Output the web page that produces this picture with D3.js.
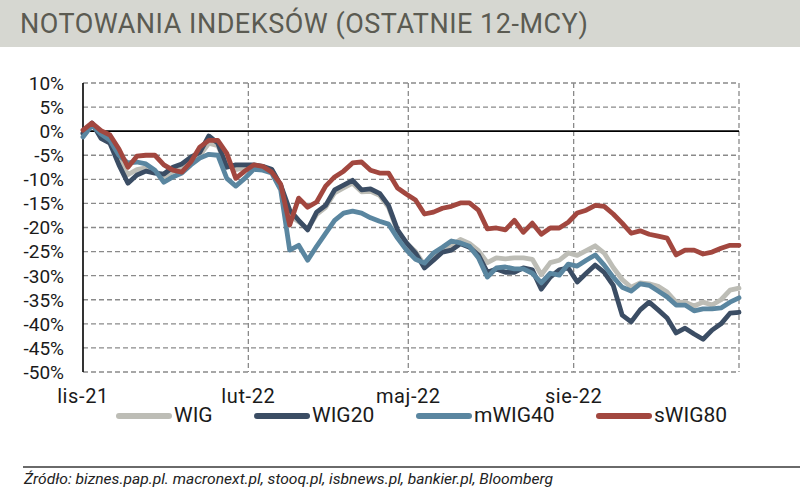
<!DOCTYPE html>
<html>
<head>
<meta charset="utf-8">
<script src="https://cdn.jsdelivr.net/npm/d3@7"></script>
<style>
    body { margin: 0; background: #ffffff; }
    svg text { font-family: Roboto, "Liberation Sans", sans-serif; }
</style>
</head>
<body>
<svg id="chart"></svg>
<script>

// Data - one point every 5 days from 1 Nov 2021, % change
var startDate = new Date(2021, 10, 1);
var stepDays = 5;

var yTicks = [10, 5, 0, -5, -10, -15, -20, -25, -30, -35, -40, -45, -50];
var xTickDates = [new Date(2021, 10, 1), new Date(2022, 1, 1), new Date(2022, 4, 1), new Date(2022, 7, 1)];
var xTickLabels = ['lis-21', 'lut-22', 'maj-22', 'sie-22'];

var seriesNames = ['WIG', 'WIG20', 'mWIG40', 'sWIG80'];

var wig = [-0.6, 1.5, -1.0, -2.2, -6.0, -9.0, -8.0, -7.6, -8.3, -9.5,
    -8.4, -7.8, -6.2, -5.0, -2.5, -3.0, -7.0, -8.0, -7.6, -7.2,
    -7.5, -8.0, -11.3, -17.5, -18.8, -20.3, -17.3, -15.8, -12.8, -11.8,
    -10.8, -12.6, -12.5, -13.3, -15.8, -20.8, -23.3, -25.0, -27.8, -25.8,
    -24.3, -23.8, -22.5, -23.3, -24.8, -27.3, -26.3, -26.5, -26.3, -26.3,
    -26.6, -29.8, -27.3, -26.8, -25.3, -25.8, -24.8, -23.8, -25.3, -28.3,
    -30.8, -32.4, -31.5, -31.7, -32.2, -33.4, -35.5, -35.5, -36.3, -35.5,
    -36.1, -35.0, -33.0, -32.6];

var wig20 = [-0.4, 1.7, -1.5, -2.5, -7.0, -10.8, -9.1, -8.3, -8.7, -8.9,
    -7.5, -6.8, -5.4, -4.4, -1.0, -2.5, -7.5, -7.0, -7.0, -7.0,
    -7.3, -7.9, -11.2, -16.4, -18.5, -20.5, -16.8, -15.4, -12.2, -11.2,
    -10.2, -12.2, -12.0, -12.9, -15.4, -20.5, -23.2, -25.3, -28.4, -26.8,
    -25.1, -24.7, -23.4, -24.1, -25.7, -29.3, -28.6, -29.3, -29.3, -28.4,
    -28.8, -32.8, -30.3, -28.8, -28.4, -31.3, -29.5, -27.8, -29.3, -32.0,
    -38.2, -39.6, -37.1, -35.5, -37.1, -38.8, -41.9, -40.9, -42.1, -43.2,
    -41.3, -40.0, -37.8, -37.6];

var mwig40 = [-1.2, 1.2, -0.6, -1.9, -5.0, -6.6, -6.4, -6.8, -8.1, -10.6,
    -9.5, -8.7, -7.0, -5.6, -4.8, -5.0, -9.8, -11.4, -9.8, -7.9,
    -8.1, -8.7, -12.2, -24.7, -23.7, -26.8, -23.9, -21.2, -18.5, -17.0,
    -16.6, -17.0, -18.0, -18.7, -19.3, -22.2, -24.7, -26.6, -27.4, -25.3,
    -24.1, -22.8, -23.2, -23.9, -26.3, -30.3, -28.4, -28.2, -28.6, -28.6,
    -29.5, -31.5, -29.5, -29.9, -27.6, -28.0, -26.8, -25.7, -27.8, -30.3,
    -32.4, -33.2, -31.7, -32.0, -33.2, -34.4, -36.1, -36.1, -37.3, -36.9,
    -36.9, -36.7, -35.5, -34.6];

var swig80 = [0.2, 1.7, 0.1, -0.8, -3.7, -7.5, -5.2, -5.0, -5.0, -7.0,
    -8.1, -8.5, -6.4, -3.3, -1.9, -1.9, -4.6, -9.8, -8.3, -7.0,
    -7.3, -8.5, -11.0, -19.5, -13.9, -15.8, -14.7, -11.4, -9.5, -8.3,
    -6.6, -6.4, -8.1, -8.7, -8.7, -11.8, -13.1, -14.3, -17.2, -16.8,
    -16.0, -15.6, -14.9, -14.9, -16.4, -20.3, -20.1, -20.5, -18.5, -21.0,
    -19.1, -21.4, -20.1, -20.1, -18.9, -17.0, -16.4, -15.4, -15.6, -17.2,
    -19.1, -21.2, -20.7, -21.4, -21.8, -22.2, -25.7, -24.7, -24.7, -25.5,
    -25.1, -24.3, -23.7, -23.7];

var seriesValues = [wig, wig20, mwig40, swig80];
var seriesColors = ['#bdbdb6', '#3b4d64', '#5a86a0', '#a2473f'];

// Chart setup
var width = 800;
var height = 492;
var margin = { top: 83, right: 62, bottom: 120, left: 83 };

var svg = d3.select('#chart')
    .attr('width', width)
    .attr('height', height);

// Title band
svg.append('rect')
    .attr('x', 0)
    .attr('y', 0)
    .attr('width', width)
    .attr('height', 47)
    .attr('fill', '#d6d7d1');

svg.append('text')
    .attr('x', 20)
    .attr('y', 33)
    .attr('fill', '#5b5b52')
    .style('font-size', '27px')
    .attr('textLength', 568)
    .attr('lengthAdjust', 'spacing')
    .text('NOTOWANIA INDEKSÓW (OSTATNIE 12-MCY)');

// Scales
var x = d3.scaleTime()
    .domain([startDate, new Date(2022, 10, 1)])
    .range([margin.left, width - margin.right + 1]);

var y = d3.scaleLinear()
    .domain([-50, 10])
    .range([height - margin.bottom, margin.top]);

// Horizontal grid (dashed), 0% drawn solid later
svg.append('g')
    .attr('class', 'grid')
    .selectAll('line')
    .data(yTicks.filter(function(d) { return d !== 0; }))
    .enter().append('line')
    .attr('x1', margin.left)
    .attr('x2', x.range()[1])
    .attr('y1', function(d) { return y(d); })
    .attr('y2', function(d) { return y(d); })
    .attr('stroke', '#8a8a8a')
    .attr('stroke-width', 1.3)
    .attr('stroke-dasharray', '5,3');

// Vertical grid (dashed) at tick dates and right edge
var vLines = xTickDates.slice(1).concat([x.domain()[1]]);
svg.append('g')
    .attr('class', 'vgrid')
    .selectAll('line')
    .data(vLines)
    .enter().append('line')
    .attr('x1', function(d) { return x(d); })
    .attr('x2', function(d) { return x(d); })
    .attr('y1', y(10))
    .attr('y2', y(-50))
    .attr('stroke', '#8a8a8a')
    .attr('stroke-width', 1.3)
    .attr('stroke-dasharray', '5,3');

// Zero line
svg.append('line')
    .attr('x1', margin.left)
    .attr('x2', x.range()[1])
    .attr('y1', y(0))
    .attr('y2', y(0))
    .attr('stroke', '#000')
    .attr('stroke-width', 1.6);

// Left axis line
svg.append('line')
    .attr('x1', margin.left)
    .attr('x2', margin.left)
    .attr('y1', y(10))
    .attr('y2', y(-50))
    .attr('stroke', '#000')
    .attr('stroke-width', 1.6);

// Y labels
svg.append('g')
    .selectAll('text')
    .data(yTicks)
    .enter().append('text')
    .attr('x', 64)
    .attr('y', function(d) { return y(d); })
    .attr('dy', '.36em')
    .style('text-anchor', 'end')
    .style('font-size', '19px')
    .attr('fill', '#1a1a1a')
    .text(function(d) { return d + '%'; });

// X labels
svg.append('g')
    .selectAll('text')
    .data(xTickDates)
    .enter().append('text')
    .attr('x', function(d) { return x(d); })
    .attr('y', 403)
    .style('text-anchor', 'middle')
    .style('font-size', '20px')
    .style('letter-spacing', '0.6px')
    .attr('fill', '#1a1a1a')
    .text(function(d, i) { return xTickLabels[i]; });

// Lines
var line = d3.line()
    .x(function(d, i) { return x(d3.timeDay.offset(startDate, i * stepDays)); })
    .y(function(d) { return y(d); });

svg.append('g')
    .attr('class', 'lines')
    .selectAll('path')
    .data(seriesValues)
    .enter().append('path')
    .attr('d', line)
    .attr('fill', 'none')
    .attr('stroke', function(d, i) { return seriesColors[i]; })
    .attr('stroke-width', 4.8)
    .attr('stroke-linejoin', 'round')
    .attr('stroke-linecap', 'round');

// Legend
var legendX = [117, 255, 417, 597];

var legend = svg.append('g')
    .attr('class', 'legend')
    .selectAll('g')
    .data(seriesNames)
    .enter().append('g')
    .attr('transform', function(d, i) { return 'translate(' + legendX[i] + ',416)'; });

legend.append('line')
    .attr('x1', 2)
    .attr('x2', 52)
    .attr('stroke', function(d, i) { return seriesColors[i]; })
    .attr('stroke-width', 6)
    .attr('stroke-linecap', 'round');

legend.append('text')
    .attr('x', 57)
    .attr('y', 6)
    .style('font-size', '21px')
    .attr('fill', '#1a1a1a')
    .text(function(d) { return d; });

// Footer
svg.append('line')
    .attr('x1', 23)
    .attr('x2', width)
    .attr('y1', 467)
    .attr('y2', 467)
    .attr('stroke', '#6a6a6a')
    .attr('stroke-width', 2);

svg.append('text')
    .attr('x', 24)
    .attr('y', 484)
    .style('font-size', '14px')
    .style('font-style', 'italic')
    .attr('textLength', 529)
    .attr('lengthAdjust', 'spacingAndGlyphs')
    .attr('fill', '#222')
    .text('Źródło: biznes.pap.pl. macronext.pl, stooq.pl, isbnews.pl, bankier.pl, Bloomberg');

</script>
</body>
</html>
